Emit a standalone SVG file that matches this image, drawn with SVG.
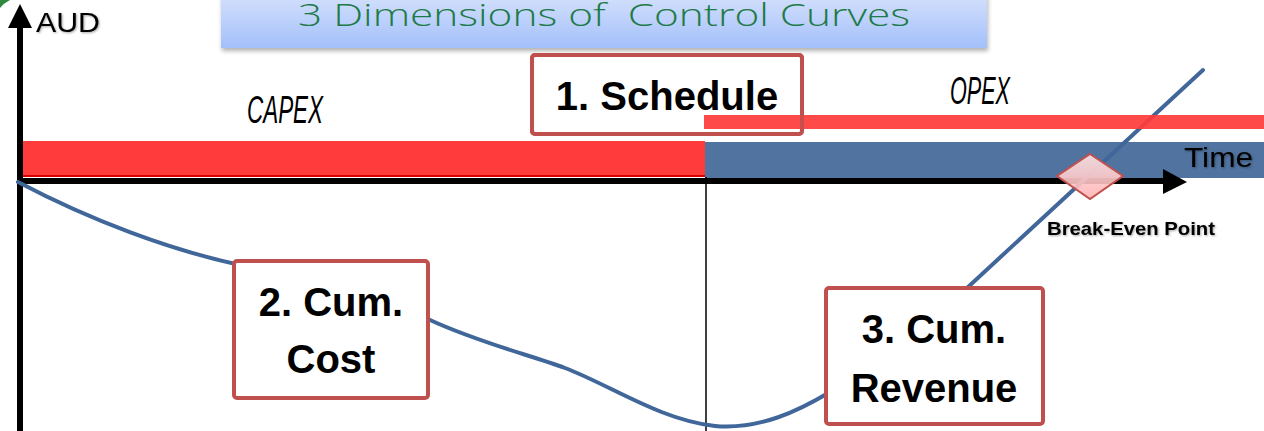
<svg xmlns="http://www.w3.org/2000/svg" width="1264" height="431" viewBox="0 0 1264 431">
<defs>
<linearGradient id="titleGrad" x1="0" y1="0" x2="0" y2="1">
<stop offset="0" stop-color="#d8e3fc"/>
<stop offset="1" stop-color="#a3c0fa"/>
</linearGradient>
<linearGradient id="diaGrad" x1="0" y1="0" x2="0" y2="1">
<stop offset="0" stop-color="#ffe4e4"/>
<stop offset="1" stop-color="#ffb2b2"/>
</linearGradient>
<filter id="shadow" x="-5%" y="-20%" width="110%" height="160%">
<feDropShadow dx="1" dy="3" stdDeviation="2" flood-color="#000" flood-opacity="0.3"/>
</filter>
<filter id="tshadow" x="-10%" y="-20%" width="120%" height="150%">
<feDropShadow dx="1" dy="1" stdDeviation="0.8" flood-color="#000" flood-opacity="0.35"/>
</filter>
</defs>
<style>
.box{fill:#ffffff;stroke:#c0504d;stroke-width:4}
.boxtxt{font-family:"Liberation Sans",Arial,sans-serif;font-weight:bold;font-size:40px;fill:#000;text-anchor:middle}
.phase{font-family:"Liberation Sans",Arial,sans-serif;font-style:italic;font-size:39px;fill:#000}
.axislbl{font-family:"Liberation Sans",Arial,sans-serif;font-size:28px;fill:#000}
.curve{fill:none;stroke:#40669a;stroke-width:4;stroke-linecap:round}
</style>
<rect width="1264" height="431" fill="#ffffff"/>
<path d="M0,0 L10,0 Q4,3 0,8 Z" fill="#2e8b3e"/>
<g id="title">
<rect x="221" y="-10" width="766" height="58" fill="url(#titleGrad)" filter="url(#shadow)"/>
<text x="604" y="26" font-family="'Open Sans','Liberation Sans',sans-serif" font-weight="300" font-size="31" fill="#1e7b48" text-anchor="middle" textLength="612" lengthAdjust="spacingAndGlyphs" xml:space="preserve">3 Dimensions of  Control Curves</text>
</g>
<g id="capex-bar">
<rect x="21" y="141" width="684" height="36" fill="#ff3b3b"/>
<line x1="21" y1="176" x2="705" y2="176" stroke="#d90000" stroke-width="2"/>
<line x1="22" y1="141" x2="22" y2="177" stroke="#d90000" stroke-width="2"/>
<text class="phase" x="247" y="123" textLength="76" lengthAdjust="spacingAndGlyphs">CAPEX</text>
</g>
<g id="opex-bar">
<rect x="705" y="142" width="559" height="36" fill="#50739f"/>
<text class="phase" x="950" y="104" font-size="36" textLength="60" lengthAdjust="spacingAndGlyphs">OPEX</text>
</g>
<g id="schedule">
<rect class="box" x="532" y="55" width="270" height="79" rx="3" fill="#fff" stroke="none"/>
<text class="boxtxt" x="667" y="110">1. Schedule</text>
</g>
<g id="connectors">
<line x1="20" y1="431" x2="20" y2="22" stroke="#000" stroke-width="6"/>
<polygon points="20,4 8,28 32,28" fill="#000"/>
<line x1="17" y1="181" x2="1166" y2="181" stroke="#000" stroke-width="6"/>
<polygon points="1163,169 1187,182 1163,194" fill="#000"/>
<line x1="706" y1="177" x2="706" y2="431" stroke="#000" stroke-width="1.5"/>
<path class="curve" d="M18,182 C90,220 170,250 240,265 L430,320 C480,343 530,355 565,368 C610,385 660,420 715,426 C760,430 800,410 830,392 C880,360 930,320 967,288 L1203,70"/>
</g>
<rect x="704" y="115" width="560" height="14" fill="#ff3b3b" fill-opacity="0.92"/>
<rect x="532" y="55" width="270" height="79" rx="3" fill="none" stroke="#c0504d" stroke-width="4" stroke-opacity="0.85"/>
<g id="cum-cost">
<rect class="box" x="234" y="261" width="194" height="137" rx="3"/>
<text class="boxtxt" x="331" y="316">2. Cum.</text>
<text class="boxtxt" x="331" y="373">Cost</text>
</g>
<g id="cum-revenue">
<rect class="box" x="826" y="288" width="217" height="136" rx="3"/>
<text class="boxtxt" x="934" y="343">3. Cum.</text>
<text class="boxtxt" x="934" y="402">Revenue</text>
</g>
<g id="break-even">
<polygon points="1090,154 1123,176 1090,199 1057,176" fill="url(#diaGrad)" fill-opacity="0.9" stroke="#c0504d" stroke-width="2"/>
<text x="1131" y="235" font-family="'Liberation Sans',Arial,sans-serif" font-weight="bold" font-size="19" fill="#000" text-anchor="middle" textLength="168" lengthAdjust="spacingAndGlyphs" filter="url(#tshadow)">Break-Even Point</text>
</g>
<g id="axis-labels">
<text class="axislbl" x="36" y="32" textLength="64" lengthAdjust="spacingAndGlyphs" filter="url(#tshadow)">AUD</text>
<text class="axislbl" x="1184" y="167" font-size="30" textLength="69" lengthAdjust="spacingAndGlyphs" filter="url(#tshadow)">Time</text>
</g>
</svg>
